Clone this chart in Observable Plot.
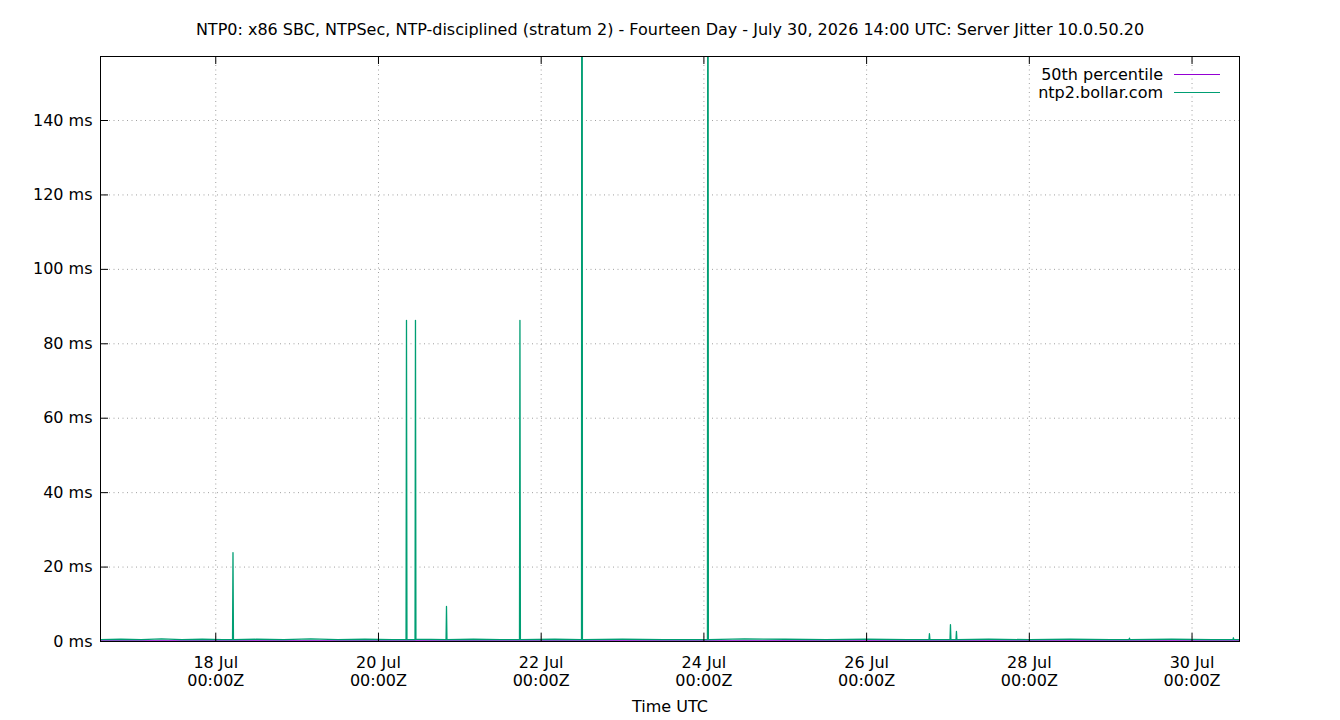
<!DOCTYPE html>
<html>
<head>
<meta charset="utf-8">
<script src="https://cdn.jsdelivr.net/npm/d3@7"></script>
<script src="https://cdn.jsdelivr.net/npm/@observablehq/plot@0.6"></script>
<style>
  html, body { margin: 0; padding: 0; background: #fff; }
  #wrap { position: relative; width: 1340px; height: 720px; }
  #chart svg { display: block; }
  #legend { position: absolute; right: 120px; top: 65px; font-family: "DejaVu Sans", sans-serif; font-size: 16px; color: #000; }
  .row { display: flex; align-items: center; justify-content: flex-end; height: 18px; }
  .swatch { width: 46px; height: 0; border-top: 1px solid; margin-left: 11px; }
</style>
</head>
<body>
<div id="wrap">
  <div id="chart"></div>
  <div id="legend"></div>
</div>
<script>
const titleText = "NTP0: x86 SBC, NTPSec, NTP-disciplined (stratum 2) - Fourteen Day - July 30, 2026 14:00 UTC: Server Jitter 10.0.50.20";
const xLabel = "Time UTC";
const seriesNames = ["50th percentile", "ntp2.bollar.com"];
const seriesColors = ["#9400d3", "#009e73"];
const xDomain = ["2026-07-16T14:00Z", "2026-07-30T14:00Z"];
const yDomain = [0, 157.2];
const xTickDates = ["2026-07-18T00:00Z", "2026-07-20T00:00Z", "2026-07-22T00:00Z", "2026-07-24T00:00Z", "2026-07-26T00:00Z", "2026-07-28T00:00Z", "2026-07-30T00:00Z"];
const xTickLabels = ["18 Jul\n00:00Z", "20 Jul\n00:00Z", "22 Jul\n00:00Z", "24 Jul\n00:00Z", "26 Jul\n00:00Z", "28 Jul\n00:00Z", "30 Jul\n00:00Z"];
const yTicks = [0, 20, 40, 60, 80, 100, 120, 140];
const percentile50 = 0.2;

// ntp2.bollar.com jitter samples (ms)
const sampleTimes = [
  "2026-07-16T14:00Z","2026-07-16T20:00Z","2026-07-17T02:00Z","2026-07-17T08:00Z","2026-07-17T14:00Z",
  "2026-07-17T20:00Z","2026-07-18T02:00Z","2026-07-18T04:57Z","2026-07-18T05:05Z","2026-07-18T05:13Z",
  "2026-07-18T12:00Z","2026-07-18T20:00Z","2026-07-19T04:00Z","2026-07-19T12:00Z","2026-07-19T20:00Z",
  "2026-07-20T04:00Z","2026-07-20T08:08Z","2026-07-20T08:16Z","2026-07-20T08:24Z","2026-07-20T10:47Z",
  "2026-07-20T10:55Z","2026-07-20T11:03Z","2026-07-20T19:56Z","2026-07-20T20:04Z","2026-07-20T20:12Z",
  "2026-07-21T04:00Z","2026-07-21T12:00Z","2026-07-21T17:36Z","2026-07-21T17:44Z","2026-07-21T17:52Z",
  "2026-07-22T04:00Z","2026-07-22T11:54Z","2026-07-22T12:02Z","2026-07-22T12:10Z","2026-07-23T00:00Z",
  "2026-07-23T12:00Z","2026-07-24T01:03Z","2026-07-24T01:11Z","2026-07-24T01:19Z","2026-07-24T12:00Z",
  "2026-07-25T00:00Z","2026-07-25T12:00Z","2026-07-26T00:00Z","2026-07-26T12:00Z","2026-07-26T18:24Z",
  "2026-07-26T18:32Z","2026-07-26T18:40Z","2026-07-27T00:36Z","2026-07-27T00:44Z","2026-07-27T00:52Z",
  "2026-07-27T02:22Z","2026-07-27T02:30Z","2026-07-27T02:38Z","2026-07-27T12:00Z","2026-07-28T00:00Z",
  "2026-07-28T12:00Z","2026-07-29T00:00Z","2026-07-29T05:24Z","2026-07-29T05:32Z","2026-07-29T05:40Z",
  "2026-07-29T18:00Z","2026-07-30T06:00Z","2026-07-30T12:04Z","2026-07-30T12:12Z","2026-07-30T12:20Z",
  "2026-07-30T14:00Z"
];
const jitterMs = [
  0.5, 0.6, 0.5, 0.7, 0.5,
  0.6, 0.5, 0.5, 23.9, 0.5,
  0.6, 0.5, 0.7, 0.5, 0.6,
  0.5, 0.5, 86.3, 0.5, 0.5,
  86.3, 0.6, 0.5, 9.4, 0.5,
  0.6, 0.5, 0.5, 86.3, 0.5,
  0.6, 0.5, 420, 0.5, 0.6,
  0.5, 0.5, 310, 0.5, 0.7,
  0.6, 0.5, 0.6, 0.5, 0.5,
  2.1, 0.5, 0.5, 4.5, 0.5,
  0.5, 2.7, 0.5, 0.6, 0.5,
  0.6, 0.5, 0.5, 0.9, 0.5,
  0.6, 0.5, 0.5, 1.0, 0.5,
  0.5
];

const samples = sampleTimes.map((t, i) => ({t: new Date(t), v: jitterMs[i]}));
const xTicks = xTickDates.map(d => new Date(d));
const labelOf = new Map(xTicks.map((d, i) => [+d, xTickLabels[i]]));
const x0 = new Date(xDomain[0]);

const FONT = "DejaVu Sans, sans-serif";
const FS = 16;
const gridStyle = {stroke: "#a0a0a0", strokeOpacity: 1, strokeDasharray: "1,3.5"};

const chart = Plot.plot({
  width: 1340,
  height: 720,
  marginLeft: 100,
  marginRight: 101,
  marginTop: 56,
  marginBottom: 79,
  style: {fontFamily: FONT, fontSize: FS + "px", background: "#fff", color: "#000"},
  x: {type: "utc", domain: xDomain.map(d => new Date(d)), axis: null},
  y: {domain: yDomain, axis: null},
  marks: [
    Plot.gridX(xTicks, gridStyle),
    Plot.gridY(yTicks.filter(d => d > 0), gridStyle),
    Plot.ruleY([percentile50], {stroke: seriesColors[0], strokeWidth: 1, clip: true}),
    Plot.line(samples, {x: "t", y: "v", stroke: seriesColors[1], strokeWidth: 1.3, clip: true}),
    Plot.frame({stroke: "#000", strokeWidth: 1}),
    // inward ticks (bottom, top, left)
    Plot.ruleX(xTicks, {x: d => d, y1: yDomain[0], y2: yDomain[0], insetTop: -8, stroke: "#000"}),
    Plot.ruleX(xTicks, {x: d => d, y1: yDomain[1], y2: yDomain[1], insetBottom: -8, stroke: "#000"}),
    Plot.ruleY(yTicks, {y: d => d, x1: x0, x2: x0, insetRight: -8, stroke: "#000"}),
    Plot.axisY(yTicks, {tickSize: 0, tickPadding: 8, tickFormat: d => `${d} ms`, fontSize: FS, label: null}),
    Plot.text(xTicks, {x: d => d, frameAnchor: "bottom", text: d => labelOf.get(+d), lineAnchor: "top", dy: 14, lineHeight: 1.125, fontSize: FS, fill: "#000"}),
    Plot.text([xLabel], {frameAnchor: "bottom", text: d => d, lineAnchor: "middle", dy: 65, fontSize: FS, fill: "#000"}),
    Plot.text([titleText], {frameAnchor: "top", text: d => d, lineAnchor: "middle", dy: -27, fontSize: FS, fill: "#000"})
  ]
});
document.getElementById("chart").appendChild(chart);

const legend = document.getElementById("legend");
seriesNames.forEach((name, i) => {
  const row = document.createElement("div");
  row.className = "row";
  const label = document.createElement("span");
  label.textContent = name;
  const sw = document.createElement("span");
  sw.className = "swatch";
  sw.style.borderTopColor = seriesColors[i];
  row.appendChild(label);
  row.appendChild(sw);
  legend.appendChild(row);
});
</script>
</body>
</html>
